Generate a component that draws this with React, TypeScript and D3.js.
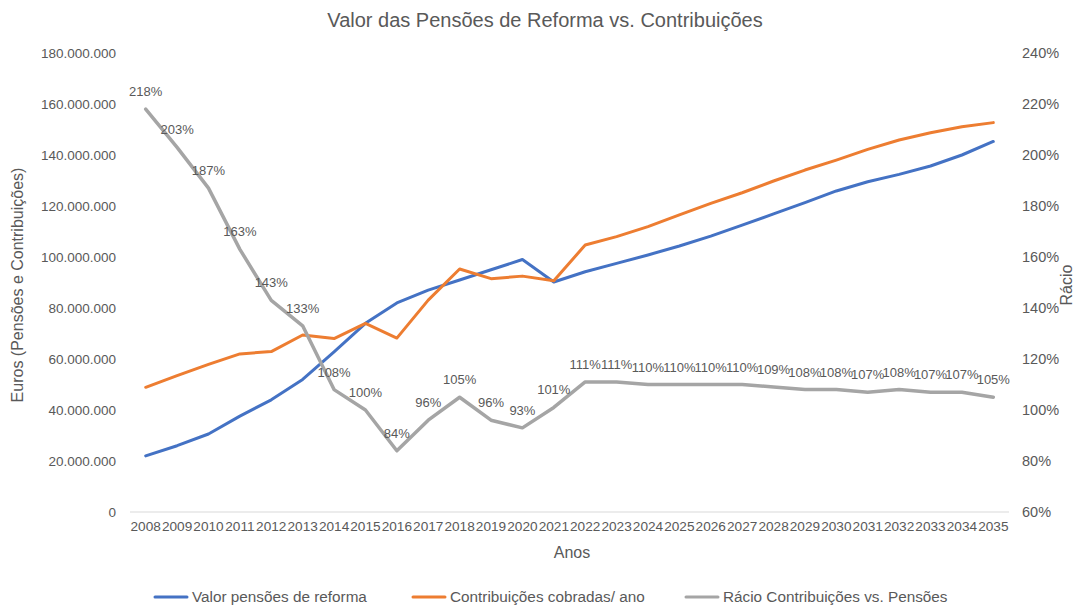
import React from "react";
import * as d3 from "d3";

const years = d3.range(2008, 2036).map(String);
const pensoes = [22, 26, 30.6, 37.6, 44, 52, 62.8, 74, 82, 87, 91, 95, 99, 90.2, 94.2, 97.5, 100.8, 104.3, 108.2, 112.5, 116.9, 121.3, 125.9, 129.5, 132.4, 135.7, 140, 145.3].map(v => v * 1e6);
const contribuicoes = [48.9, 53.5, 57.9, 62, 62.9, 69.4, 68, 74, 68.2, 83.1, 95.3, 91.5, 92.5, 90.7, 104.7, 108, 111.9, 116.5, 121, 125.2, 129.8, 134.1, 138, 142.2, 145.9, 148.7, 151.1, 152.7].map(v => v * 1e6);
const racio = [218, 203, 187, 163, 143, 133, 108, 100, 84, 96, 105, 96, 93, 101, 111, 111, 110, 110, 110, 110, 109, 108, 108, 107, 108, 107, 107, 105];
const leftTicks = d3.range(0, 180000001, 20000000);
const rightTicks = d3.range(60, 241, 20);

const W = 1086, H = 605;
const M = { left: 130, right: 1009, top: 53, bottom: 512 };
const FONT = "'Liberation Sans', Arial, sans-serif";
const TXT = "#595959";

export default function App() {
  const x = d3.scaleBand().domain(years).range([M.left, M.right]);
  const cx = (i: number) => (x(years[i]) as number) + x.bandwidth() / 2;
  const yL = d3.scaleLinear().domain([0, 180000000]).range([M.bottom, M.top]);
  const yR = d3.scaleLinear().domain([60, 240]).range([M.bottom, M.top]);
  const fmt = (v: number) => d3.format(",")(v).replace(/,/g, ".");
  const lineL = d3.line<number>().x((_, i) => cx(i)).y(d => yL(d));
  const lineR = d3.line<number>().x((_, i) => cx(i)).y(d => yR(d));

  const legend = [
    { label: "Valor pensões de reforma", color: "#4472C4", x: 155 },
    { label: "Contribuições cobradas/ ano", color: "#ED7D31", x: 413 },
    { label: "Rácio Contribuições vs. Pensões", color: "#A5A5A5", x: 686 },
  ];

  return (
    <svg width={W} height={H} style={{ position: "absolute", left: 0, top: 0, fontFamily: FONT }}>
      <rect width={W} height={H} fill="#fff" />
      <text x={545} y={27} textAnchor="middle" fontSize={20} fill={TXT}>Valor das Pensões de Reforma vs. Contribuições</text>
      <line x1={M.left} x2={M.right} y1={M.bottom} y2={M.bottom} stroke="#D9D9D9" strokeWidth={1} />
      {leftTicks.map(t => (
        <text key={t} x={116} y={yL(t)} dy="0.35em" textAnchor="end" fontSize={13.5} fill={TXT}>{fmt(t)}</text>
      ))}
      {rightTicks.map(t => (
        <text key={t} x={1022} y={yR(t)} dy="0.35em" textAnchor="start" fontSize={14.5} fill={TXT}>{t}%</text>
      ))}
      {years.map((yr, i) => (
        <text key={yr} transform={`translate(${cx(i)},531) scale(1.05,1)`} textAnchor="middle" fontSize={13} fill={TXT}>{yr}</text>
      ))}
      <text x={572} y={558} textAnchor="middle" fontSize={16} fill={TXT}>Anos</text>
      <text transform={`translate(23,285) rotate(-90)`} textAnchor="middle" fontSize={16} fill={TXT}>Euros (Pensões e Contribuições)</text>
      <text transform={`translate(1072,285) rotate(-90)`} textAnchor="middle" fontSize={16} fill={TXT}>Rácio</text>
      <path d={lineL(pensoes) || ""} fill="none" stroke="#4472C4" strokeWidth={3} strokeLinejoin="round" strokeLinecap="round" />
      <path d={lineL(contribuicoes) || ""} fill="none" stroke="#ED7D31" strokeWidth={3} strokeLinejoin="round" strokeLinecap="round" />
      <path d={lineR(racio) || ""} fill="none" stroke="#A5A5A5" strokeWidth={3.5} strokeLinejoin="round" strokeLinecap="round" />
      {racio.map((v, i) => (
        <text key={i} x={cx(i)} y={yR(v) - 13} textAnchor="middle" fontSize={13} fill={TXT}>{v}%</text>
      ))}
      {legend.map(l => (
        <g key={l.label}>
          <line x1={l.x} x2={l.x + 32} y1={597} y2={597} stroke={l.color} strokeWidth={3} strokeLinecap="round" />
          <text x={l.x + 37} y={597} dy="0.35em" fontSize={15.3} fill={TXT}>{l.label}</text>
        </g>
      ))}
    </svg>
  );
}
